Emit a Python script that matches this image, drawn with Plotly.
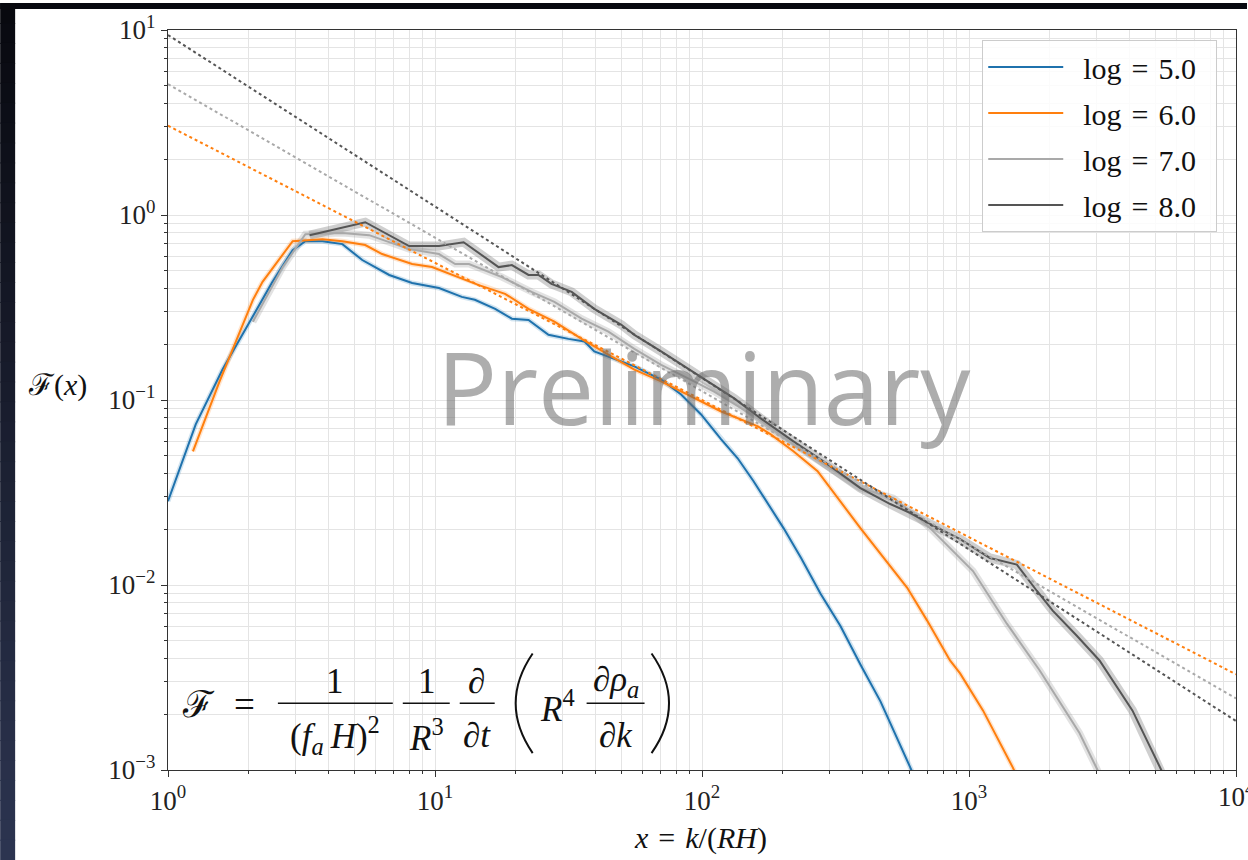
import plotly.graph_objects as go

# ---------------------------------------------------------------- data
# log = 5.0
X5 = [1.0, 1.27, 1.60, 2.02, 2.45, 2.93, 3.27, 3.79, 4.50, 5.34, 6.74, 8.21, 10.35,
      12.6, 14.1, 16.8, 19.4, 22.4, 26.6, 31.6, 36.3, 39.5, 47.0, 55.8, 70.3, 83.5,
      99.2, 118, 136, 156, 202, 235, 278, 330, 392, 466, 603, 657]
Y5 = [0.0284, 0.0738, 0.146, 0.265, 0.430, 0.646, 0.722, 0.722, 0.696, 0.571, 0.474,
      0.429, 0.403, 0.361, 0.348, 0.311, 0.275, 0.271, 0.225, 0.214, 0.207, 0.183,
      0.167, 0.152, 0.129, 0.107, 0.0835, 0.0613, 0.0484, 0.0364, 0.0203, 0.0140,
      0.00897, 0.00600, 0.00372, 0.00235, 0.00103, 0.00078]

# log = 6.0
X6 = [1.24, 1.56, 2.08, 2.26, 2.93, 3.79, 4.50, 5.48, 6.34, 8.21, 9.75, 12.3, 14.6,
      18.3, 22.4, 28.0, 35.4, 44.6, 55.8, 70.3, 88.7, 118, 162, 181, 220, 271, 392,
      553, 587, 697, 849, 926, 1128, 1460, 1591]
Y6 = [0.0528, 0.126, 0.348, 0.435, 0.722, 0.740, 0.722, 0.688, 0.615, 0.543, 0.523,
      0.462, 0.418, 0.375, 0.311, 0.265, 0.214, 0.176, 0.146, 0.126, 0.107, 0.0867,
      0.0720, 0.0652, 0.0528, 0.0412, 0.0203, 0.0109, 0.00966, 0.00642, 0.00391,
      0.00333, 0.00210, 0.00103, 0.00078]

# log = 7.0
X7 = [2.08, 2.69, 3.27, 4.50, 5.67, 8.0, 10.35, 11.9, 13.4, 17.8, 23.0, 28.0, 35.4,
      44.6, 55.8, 70.3, 88.7, 111, 162, 220, 392, 521, 603, 715, 1035, 1386, 1840,
      2596, 3029, 3217]
Y7 = [0.265, 0.523, 0.788, 0.80, 0.778, 0.654, 0.615, 0.543, 0.543, 0.462, 0.384,
      0.339, 0.275, 0.234, 0.189, 0.155, 0.131, 0.111, 0.0795, 0.0576, 0.0334, 0.0295,
      0.0251, 0.0203, 0.0119, 0.00618, 0.00345, 0.00158, 0.00100, 0.00078]

# log = 8.0
X8 = [3.39, 5.48, 8.0, 10.35, 12.8, 17.3, 19.4, 22.4, 24.4, 27.3, 32.5, 39.5, 49.9,
      55.8, 70.3, 88.7, 105, 132, 166, 220, 295, 392, 507, 603, 715, 926, 1198, 1511,
      1794, 2058, 2529, 3082, 4092, 5250, 5623]
Y8 = [0.778, 0.914, 0.679, 0.679, 0.713, 0.523, 0.536, 0.474, 0.474, 0.424, 0.384,
      0.311, 0.255, 0.225, 0.183, 0.148, 0.126, 0.102, 0.0795, 0.0598, 0.0450, 0.0334,
      0.0274, 0.0245, 0.0214, 0.0177, 0.0140, 0.0129, 0.00931, 0.00727, 0.00533,
      0.00391, 0.00210, 0.00100, 0.00078]

# power-law fits, end points at x = 1 and x = 1e4
FIT_X = [1.0, 1.0e4]
FIT6 = [3.04, 0.00329]
FIT7 = [5.1, 0.00244]
FIT8 = [9.4, 0.00184]

NAMES = ["log\u2004=\u20045.0", "log\u2004=\u20046.0", "log\u2004=\u20047.0", "log\u2004=\u20048.0"]
X_TICKS = [1, 10, 100, 1000, 10000]
X_TICKTEXT = ["10<sup>0</sup>", "10<sup>1</sup>", "10<sup>2</sup>", "10<sup>3</sup>", "10<sup>4</sup>"]
Y_TICKS = [0.001, 0.01, 0.1, 1, 10]
Y_TICKTEXT = ["10<sup>\u22123</sup>", "10<sup>\u22122</sup>", "10<sup>\u22121</sup>",
              "10<sup>0</sup>", "10<sup>1</sup>"]

# ---------------------------------------------------------------- layout geometry
W, H = 1248, 860
L, R, T, B = 168, 1237, 27, 770
SERIF = "Liberation Serif, DejaVu Serif, serif"
TICK_SIZE = 27


def paper(x, y):
    return (x - L) / (R - L), (B - y) / (B - T)


BLUE = "#1f72ad"
ORANGE = "#ff7f0e"
LGRAY = "#a9a9a9"
DGRAY = "#555555"

fig = go.Figure()

series = [
    (X5, Y5, BLUE, "rgba(31,119,180,0.20)", 5, NAMES[0]),
    (X6, Y6, ORANGE, "rgba(255,127,14,0.20)", 5, NAMES[1]),
    (X7, Y7, LGRAY, "rgba(150,150,150,0.28)", 7, NAMES[2]),
    (X8, Y8, DGRAY, "rgba(110,110,110,0.33)", 9, NAMES[3]),
]

# shaded spread under each spectrum
for xs, ys, col, band, bw, name in series:
    fig.add_trace(go.Scatter(x=xs, y=ys, mode="lines", showlegend=False, hoverinfo="skip",
                             line=dict(color=band, width=bw)))
# spectra
for xs, ys, col, band, bw, name in series:
    fig.add_trace(go.Scatter(x=xs, y=ys, mode="lines", name="\u2002" + name + "\u2002",
                             legendgroup=name, line=dict(color=col, width=2)))
# power-law fits
for fy, col in [(FIT6, ORANGE), (FIT7, LGRAY), (FIT8, DGRAY)]:
    fig.add_trace(go.Scatter(x=FIT_X, y=fy, mode="lines", showlegend=False, hoverinfo="skip",
                             line=dict(color=col, width=2, dash="dot")))

minor_x = [m * 10 ** e for e in range(0, 4) for m in range(2, 10)]
minor_y = [m * 10.0 ** e for e in range(-3, 1) for m in range(2, 10)]
GRID = "#e4e4e4"
axis_common = dict(
    type="log", showline=True, linecolor="#333333", linewidth=1.3, mirror=True,
    ticks="outside", ticklen=6, tickwidth=1, tickcolor="#333333",
    showgrid=True, gridcolor=GRID, gridwidth=1, zeroline=False,
    tickfont=dict(family=SERIF, size=TICK_SIZE, color="#222222"),
)
fig.update_xaxes(range=[0, 4], tickmode="array", tickvals=X_TICKS, ticktext=X_TICKTEXT,
                 minor=dict(tickmode="array", tickvals=minor_x, ticks="outside", ticklen=3,
                            tickcolor="#333333", showgrid=True, gridcolor=GRID),
                 **axis_common)
fig.update_yaxes(range=[-3, 1], tickmode="array", tickvals=Y_TICKS, ticktext=Y_TICKTEXT,
                 minor=dict(tickmode="array", tickvals=minor_y, ticks="outside", ticklen=3,
                            tickcolor="#333333", showgrid=True, gridcolor=GRID),
                 **axis_common)

shapes = []
annotations = []

# dark frame around the slide: black top edge, navy left edge fading downwards
shapes.append(dict(type="rect", xref="paper", yref="paper", layer="below",
                   x0=paper(0, 0)[0], x1=paper(W, 0)[0], y0=paper(0, 0)[1], y1=paper(0, 6)[1],
                   fillcolor="#07080f", line=dict(width=0)))
top_rgb = (8, 9, 15)
bot_rgb = (44, 52, 80)
steps = 43
for i in range(steps):
    f = i / (steps - 1)
    c = tuple(round(a + (b - a) * f) for a, b in zip(top_rgb, bot_rgb))
    y0 = i * H / steps
    y1 = (i + 1) * H / steps + 1
    shapes.append(dict(type="rect", xref="paper", yref="paper", layer="below",
                       x0=paper(0, 0)[0], x1=paper(15, 0)[0], y0=paper(0, y0)[1], y1=paper(0, y1)[1],
                       fillcolor="rgb(%d,%d,%d)" % c, line=dict(width=0)))


def text(x, y, s, size, family=SERIF, color="#111111", xanchor="center", yanchor="middle"):
    px, py = paper(x, y)
    annotations.append(dict(x=px, y=py, xref="paper", yref="paper", text=s, showarrow=False,
                            xanchor=xanchor, yanchor=yanchor,
                            font=dict(family=family, size=size, color=color)))


def hbar(x0, x1, y):
    a = paper(x0, y)
    b = paper(x1, y)
    shapes.append(dict(type="line", xref="paper", yref="paper", x0=a[0], x1=b[0], y0=a[1], y1=b[1],
                       line=dict(color="#111111", width=1.5)))


def paren(xe, xc, y0, y1):
    p0 = paper(xe, y0)
    pc = paper(xc, (y0 + y1) / 2)
    p1 = paper(xe, y1)
    shapes.append(dict(type="path", xref="paper", yref="paper",
                       path=f"M {p0[0]},{p0[1]} Q {pc[0]},{pc[1]} {p1[0]},{p1[1]}",
                       line=dict(color="#111111", width=2)))


# last x tick label runs off the right edge of the page; place it by hand
annotations.append(dict(x=1.0, y=0, xref="paper", yref="paper", text=X_TICKTEXT[-1],
                        showarrow=False, xanchor="center", yanchor="top", yshift=-6,
                        font=dict(family=SERIF, size=TICK_SIZE, color="#222222")))

# watermark
text(705, 384, "Preliminary", 100, family="Open Sans, DejaVu Sans, sans-serif",
     color="rgba(105,105,105,0.55)")

# axis labels
text(57, 383, "\u2131(<i>x</i>)", 30)
text(701, 838, "<i>x</i>\u2004=\u2004<i>k</i>/(<i>RH</i>)", 30)

# formula
FS = 35
text(199, 704, "\u2131", FS + 2)
text(245, 704, "=", FS + 2)
hbar(278, 393, 703)
text(335, 681, "1", FS)
text(335, 735, "(<i>f</i><sub><i>a</i></sub>\u2009<i>H</i>)<sup>2</sup>", FS)
hbar(403, 450, 703)
text(427, 681, "1", FS)
text(427, 735, "<i>R</i><sup>3</sup>", FS)
hbar(460, 495, 703)
text(477, 681, "\u2202", FS)
text(477, 735, "\u2202<i>t</i>", FS)
paren(533, 499, 653, 753)
text(558, 706, "<i>R</i><sup>4</sup>", FS)
hbar(587, 645, 703)
text(616, 681, "\u2202<i>\u03c1</i><sub><i>a</i></sub>", FS)
text(616, 735, "\u2202<i>k</i>", FS)
paren(652, 687, 653, 753)

lx, ly = paper(983, 37)
fig.update_layout(
    width=W, height=H,
    margin=dict(l=L, r=W - R, t=T, b=H - B, pad=0),
    paper_bgcolor="white", plot_bgcolor="white",
    showlegend=True,
    legend=dict(x=lx, y=ly, xanchor="left", yanchor="top",
                bgcolor="rgba(255,255,255,0.85)", bordercolor="#cccccc", borderwidth=1,
                font=dict(family=SERIF, size=30, color="#111111"),
                itemwidth=75, tracegroupgap=4, traceorder="grouped"),
    shapes=shapes, annotations=annotations,
)

fig.write_html("out.html")
